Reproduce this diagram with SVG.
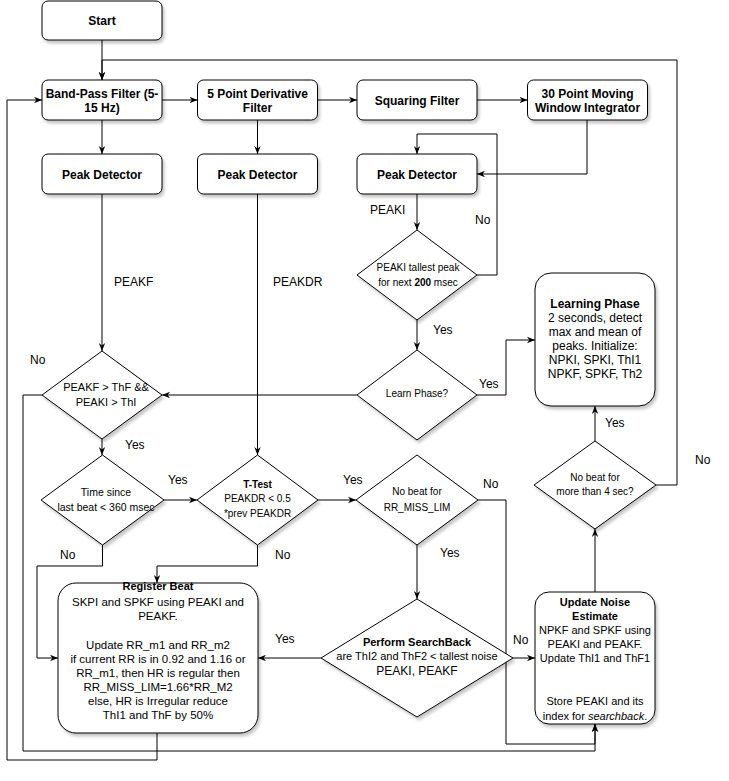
<svg xmlns="http://www.w3.org/2000/svg" width="729" height="781" viewBox="0 0 729 781">
<defs>
<marker id="arr" markerUnits="userSpaceOnUse" viewBox="0 0 10 10" markerWidth="8" markerHeight="8" refX="10" refY="5" orient="auto">
<path d="M0,1 L10,5 L0,9 L3,5 z" fill="#000"/>
</marker>
<filter id="sh" x="-10%" y="-10%" width="130%" height="130%">
<feDropShadow dx="2" dy="3" stdDeviation="1.5" flood-color="#000" flood-opacity="0.22"/>
</filter>
</defs>
<style>
.n{fill:#fff;stroke:#000;stroke-width:1;filter:url(#sh)}
.c{fill:none;stroke:#000;stroke-width:1}
.a{marker-end:url(#arr)}
text{font-family:"Liberation Sans",Arial,Helvetica,sans-serif;fill:#000}
.b{font-weight:bold;font-size:12px;text-anchor:middle}
.d{font-size:10px;text-anchor:middle}
.d11{font-size:11px;text-anchor:middle}
.t{font-size:12px;text-anchor:middle}
.r{font-size:11.5px;text-anchor:middle}
.l{font-size:12px}
</style>
<rect width="729" height="781" fill="#fff"/>

<g id="connectors">
<path class="c a" d="M102,40 V80"/>
<path class="c a" d="M656,485 H677 V60 H102 V80"/>
<path class="c a" d="M162,100 H197.5"/>
<path class="c a" d="M317.5,100 H357"/>
<path class="c a" d="M477,100 H527.5"/>
<path class="c a" d="M587,120 V174 H477"/>
<path class="c a" d="M102,120 V154"/>
<path class="c a" d="M257.5,120 V154"/>
<path class="c a" d="M417,194 V230"/>
<path class="c a" d="M477,275 H497 V134 H417 V154"/>
<path class="c a" d="M417,320 V350"/>
<path class="c a" d="M477,395 H506 V340 H535"/>
<path class="c a" d="M357,395 H162"/>
<path class="c a" d="M102,194 V351"/>
<path class="c a" d="M257.5,194 V455"/>
<path class="c a" d="M102,439 V455"/>
<path class="c a" d="M42,395 H23 V751 H595 V724"/>
<path class="c a" d="M164,500 H197"/>
<path class="c a" d="M102.5,545 V566 H37 V658 H58"/>
<path class="c a" d="M257.5,545 V566 H157 V583"/>
<path class="c a" d="M318,500 H356"/>
<path class="c a" d="M478,500 H506 V744 H595 V724"/>
<path class="c a" d="M417,545 V599"/>
<path class="c a" d="M321,658 H258"/>
<path class="c a" d="M513,658 H535"/>
<path class="c a" d="M595,592 V529"/>
<path class="c a" d="M595,441 V406"/>
<path class="c a" d="M157,733 V760 H7 V100 H42"/>
</g>

<g id="start">
<rect class="n" x="42" y="1" width="120" height="39" rx="6"/>
<text class="b" x="102" y="24.5">Start</text>
</g>
<g id="bandpass">
<rect class="n" x="42" y="80" width="120" height="40" rx="6"/>
<text class="b" x="102" y="97.5">Band-Pass Filter (5-</text>
<text class="b" x="102" y="112">15 Hz)</text>
</g>
<g id="derivative">
<rect class="n" x="197.5" y="80" width="120" height="40" rx="6"/>
<text class="b" x="257.5" y="97.5">5 Point Derivative</text>
<text class="b" x="257.5" y="112">Filter</text>
</g>
<g id="squaring">
<rect class="n" x="357" y="80" width="120" height="40" rx="6"/>
<text class="b" x="417" y="104.5">Squaring Filter</text>
</g>
<g id="integrator">
<rect class="n" x="527.5" y="80" width="120" height="40" rx="6"/>
<text class="b" x="587.5" y="97.5">30 Point Moving</text>
<text class="b" x="587.5" y="112">Window Integrator</text>
</g>
<g id="peak1">
<rect class="n" x="42" y="154" width="120" height="40" rx="6"/>
<text class="b" x="102" y="178.5">Peak Detector</text>
</g>
<g id="peak2">
<rect class="n" x="197.5" y="154" width="120" height="40" rx="6"/>
<text class="b" x="257.5" y="178.5">Peak Detector</text>
</g>
<g id="peak3">
<rect class="n" x="357" y="154" width="120" height="40" rx="6"/>
<text class="b" x="417" y="178.5">Peak Detector</text>
</g>

<g id="tallest">
<polygon class="n" points="417,230 477,275 417,320 357,275"/>
<text class="d" x="418" y="270.5">PEAKI tallest peak</text>
<text class="d" x="418" y="285.5">for next <tspan font-weight="bold">200</tspan> msec</text>
</g>
<g id="learnphase">
<polygon class="n" points="417,350 477,395 417,440 357,395"/>
<text class="d" x="417" y="397">Learn Phase?</text>
</g>
<g id="thresh">
<polygon class="n" points="102,351 162,395 102,439 42,395"/>
<text class="d11" x="106" y="391">PEAKF &gt; ThF &amp;&amp;</text>
<text class="d11" x="106" y="406">PEAKI &gt; ThI</text>
</g>
<g id="timesince">
<polygon class="n" points="102.5,455 164,500 102.5,545 41,500"/>
<text class="d" x="106" y="496" style="font-size:10.5px">Time since</text>
<text class="d" x="106" y="511" style="font-size:10.5px">last beat &lt; 360 msec</text>
</g>
<g id="ttest">
<polygon class="n" points="257.5,455 318,500 257.5,545 197,500"/>
<text class="d" x="257.5" y="487.5" font-weight="bold">T-Test</text>
<text class="d" x="257.5" y="502">PEAKDR &lt; 0.5</text>
<text class="d" x="257.5" y="516.5">*prev PEAKDR</text>
</g>
<g id="rrmiss">
<polygon class="n" points="417,455 478,500 417,545 356,500"/>
<text class="d" x="417" y="494.5">No beat for</text>
<text class="d" x="417" y="510.5">RR_MISS_LIM</text>
</g>
<g id="nobeat4">
<polygon class="n" points="595,441 656,485 595,529 534,485"/>
<text class="d" x="595" y="480.5">No beat for</text>
<text class="d" x="595" y="494.5">more than 4 sec?</text>
</g>
<g id="searchback">
<polygon class="n" points="417,599 513,658 417,717 321,658"/>
<text class="d11" x="417" y="646" font-weight="bold">Perform SearchBack</text>
<text class="d11" x="417" y="660">are ThI2 and ThF2 &lt; tallest noise</text>
<text class="t" x="417" y="674.5">PEAKI, PEAKF</text>
</g>

<g id="learning">
<rect class="n" x="535" y="273" width="120" height="133" rx="16"/>
<text class="t" x="595" y="307.5" font-weight="bold">Learning Phase</text>
<text class="t" x="595" y="322">2 seconds, detect</text>
<text class="t" x="595" y="336">max and mean of</text>
<text class="t" x="595" y="350">peaks. Initialize:</text>
<text class="t" x="595" y="364">NPKI, SPKI, ThI1</text>
<text class="t" x="595" y="378">NPKF, SPKF, Th2</text>
</g>
<g id="register">
<rect class="n" x="58" y="583" width="200" height="150" rx="18"/>
<text class="d11" x="158" y="590" font-weight="bold">Register Beat</text>
<text class="r" x="158" y="606">SKPI and SPKF using PEAKI and</text>
<text class="r" x="158" y="620">PEAKF.</text>
<text class="r" x="158" y="649">Update RR_m1 and RR_m2</text>
<text class="r" x="158" y="663">if current RR is in 0.92 and 1.16 or</text>
<text class="r" x="158" y="677">RR_m1, then HR is regular then</text>
<text class="r" x="158" y="691">RR_MISS_LIM=1.66*RR_M2</text>
<text class="r" x="158" y="705">else, HR is Irregular reduce</text>
<text class="r" x="158" y="719">ThI1 and ThF by 50%</text>
</g>
<g id="noise">
<rect class="n" x="535" y="592" width="120" height="132" rx="14"/>
<text class="d11" x="595" y="606" font-weight="bold">Update Noise</text>
<text class="d11" x="595" y="619.5" font-weight="bold">Estimate</text>
<text class="d11" x="595" y="634">NPKF and SPKF using</text>
<text class="d11" x="595" y="648">PEAKI and PEAKF.</text>
<text class="d11" x="595" y="662">Update ThI1 and ThF1</text>
<text class="d11" x="595" y="705">Store PEAKI and its</text>
<text class="d11" x="595" y="720">index for <tspan font-style="italic">searchback</tspan>.</text>
</g>

<g id="labels">
<text class="l" x="114" y="286">PEAKF</text>
<text class="l" x="273" y="286">PEAKDR</text>
<text class="l" x="370" y="214">PEAKI</text>
<text class="l" x="475" y="224">No</text>
<text class="l" x="433" y="334">Yes</text>
<text class="l" x="479" y="388">Yes</text>
<text class="l" x="30" y="364">No</text>
<text class="l" x="125" y="449">Yes</text>
<text class="l" x="168" y="484">Yes</text>
<text class="l" x="343" y="484">Yes</text>
<text class="l" x="60" y="559">No</text>
<text class="l" x="275" y="559">No</text>
<text class="l" x="483" y="488">No</text>
<text class="l" x="440" y="557">Yes</text>
<text class="l" x="275" y="643">Yes</text>
<text class="l" x="513" y="644">No</text>
<text class="l" x="605" y="427">Yes</text>
<text class="l" x="695" y="464">No</text>
</g>
</svg>
